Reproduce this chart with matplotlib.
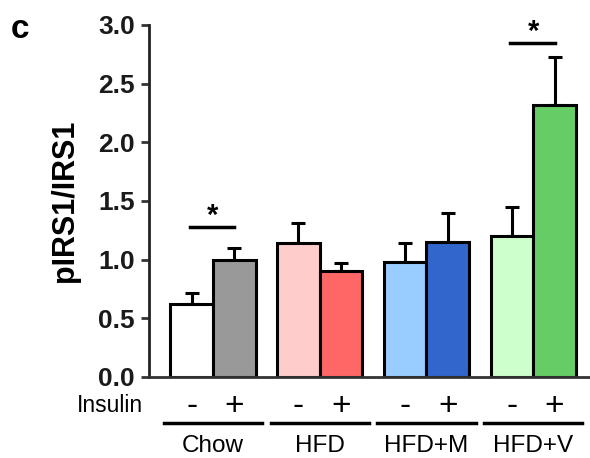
import matplotlib
matplotlib.use("Agg")
import matplotlib.pyplot as plt

plt.rcParams["font.family"] = ["Liberation Sans", "DejaVu Sans"]

groups = ["Chow", "HFD", "HFD+M", "HFD+V"]
insulin = ["-", "+"]
means = [0.62, 1.00, 1.14, 0.90, 0.98, 1.15, 1.20, 2.32]
errors = [0.10, 0.10, 0.17, 0.07, 0.16, 0.25, 0.245, 0.41]
colors = ["#ffffff", "#999999", "#ffcccc", "#ff6666",
          "#99ccff", "#3366cc", "#ccffcc", "#66cc66"]
sig_groups = [0, 3]
sig_heights = [1.28, 2.85]

fig = plt.figure(figsize=(5.9, 4.58), dpi=100)
ax = fig.add_axes([149 / 590, 81 / 458, 441 / 590, 352 / 458])

xs = []
for g in range(len(groups)):
    for k in range(2):
        xs.append(2.5 * g + k)

ax.bar(xs, means, width=1.0, color=colors, edgecolor="black", linewidth=2.2, zorder=2)
ax.errorbar(xs, means, yerr=[[0] * len(errors), errors], fmt="none", ecolor="black",
            elinewidth=2.2, capsize=5, capthick=2.2, zorder=1)

ax.set_xlim(-1.0, 9.33)
ax.set_ylim(0, 3.0)
ax.set_yticks([0, 0.5, 1.0, 1.5, 2.0, 2.5, 3.0])
ax.set_yticklabels(["0.0", "0.5", "1.0", "1.5", "2.0", "2.5", "3.0"],
                   fontsize=19, fontweight="bold", color="#1a1a1a")
ax.tick_params(axis="y", length=5.5, width=2, pad=4.5, color="#333333")
ax.set_xticks([])
for s in ["top", "right"]:
    ax.spines[s].set_visible(False)
ax.spines["left"].set_linewidth(2)
ax.spines["left"].set_color("#222222")
ax.spines["bottom"].set_linewidth(2)
ax.spines["bottom"].set_color("#333333")
ax.set_ylabel("pIRS1/IRS1", fontsize=22, fontweight="bold", labelpad=13)

# significance markers
for g, h in zip(sig_groups, sig_heights):
    x0 = 2.5 * g
    ax.plot([x0 - 0.05, x0 + 1.0], [h, h], color="black", lw=2.5, clip_on=False)
    ax.text(x0 + 0.5, h - 0.03, "*", ha="center", va="bottom", fontsize=21,
            fontweight="bold")

# insulin +/- and group labels below
tr = ax.get_xaxis_transform()
for i, x in enumerate(xs):
    ax.text(x, -0.085, insulin[i % 2], transform=tr, ha="center", va="center",
            fontsize=24, clip_on=False)
for g, name in enumerate(groups):
    x0 = 2.5 * g
    ax.plot([x0 - 0.65, x0 + 1.65], [-0.13, -0.13], transform=tr, color="black",
            lw=2.5, clip_on=False)
    ax.text(x0 + 0.5, -0.197, name, transform=tr, ha="center", va="center",
            fontsize=17.5, clip_on=False)
ax.text(-1.15, -0.08, "Insulin", transform=tr, ha="right", va="center",
        fontsize=16.5, clip_on=False)

fig.text(20 / 590, 1 - 30 / 458, "c", fontsize=24, fontweight="bold",
         ha="center", va="center")

fig.savefig("out.png", dpi=100)
